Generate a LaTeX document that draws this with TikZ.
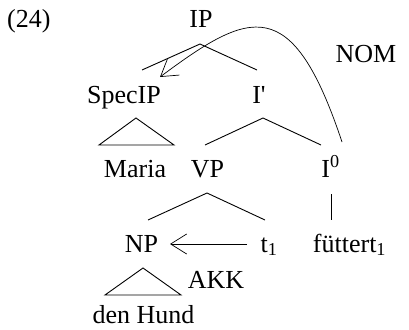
\documentclass[tikz,border=0pt]{standalone}
\usepackage{fontspec}
\setmainfont{Liberation Serif}
\usetikzlibrary{arrows.meta}
\begin{document}
\begin{tikzpicture}[x=1pt,y=-1pt,
  lbl/.style={inner sep=0pt, anchor=base, font=\fontsize{26}{31}\selectfont},
  br/.style={line width=0.9pt, line join=miter},
  mv/.style={line width=0.7pt, -{Straight Barb[length=16pt,width=20pt,line width=0.7pt]}}]
\useasboundingbox (0,0) rectangle (409,329);
% labels
\node[lbl, anchor=base west] (ex) at (7,28) {(24)};
\node[lbl] (IP) at (201,28) {IP};
\node[lbl] (NOM) at (366,63) {NOM};
\node[lbl] (SpecIP) at (124,103) {SpecIP};
\node[lbl] (Ibar) at (259,103) {I\textquotesingle};
\node[lbl] (Maria) at (135,177) {Maria};
\node[lbl] (VP) at (207.5,177) {VP};
\node[lbl] (Inull) at (330.5,177) {I\textsuperscript{0}};
\node[lbl] (NP) at (141.5,252) {NP};
\node[lbl] (tr) at (269,252) {t\textsubscript{1}};
\node[lbl] (fuet) at (349.5,252) {füttert\textsubscript{1}};
\node[lbl] (AKK) at (216,288) {AKK};
\node[lbl] (Hund) at (143.5,323.5) {den Hund};
% branch points
\coordinate (IPb) at (200,44);
\coordinate (SpecIPt) at (142,70);
\coordinate (Ibart) at (257,70);
\coordinate (SpecIPb) at (136,118);
\coordinate (MariaL) at (99,145);
\coordinate (MariaR) at (174,145);
\coordinate (Ibarb) at (263,118);
\coordinate (VPt) at (205,145);
\coordinate (Inullt) at (321,145);
\coordinate (VPb) at (207,193);
\coordinate (NPt) at (148,220);
\coordinate (trt) at (265,220);
\coordinate (Inullb) at (331,194);
\coordinate (fuett) at (331,220);
\coordinate (NPb) at (143,268);
\coordinate (HundL) at (105,295);
\coordinate (HundR) at (181,295);
\coordinate (trw) at (247,244);
\coordinate (NPe) at (170,244);
\coordinate (Inullm) at (342,142);
\coordinate (SpecIPm) at (160,77);
% tree
\draw[br] (SpecIPt) -- (IPb) -- (Ibart);
\draw[br] (SpecIPb) -- (MariaL) -- (MariaR) -- cycle;
\draw[br] (VPt) -- (Ibarb) -- (Inullt);
\draw[br] (NPt) -- (VPb) -- (trt);
\draw[br] (Inullb) -- (fuett);
\draw[br] (NPb) -- (HundL) -- (HundR) -- cycle;
% movement arrows
\draw[mv] (trw) -- (NPe);
\draw[mv] (Inullm) .. controls (292,-8) and (250,10) .. (SpecIPm);
\end{tikzpicture}
\end{document}
